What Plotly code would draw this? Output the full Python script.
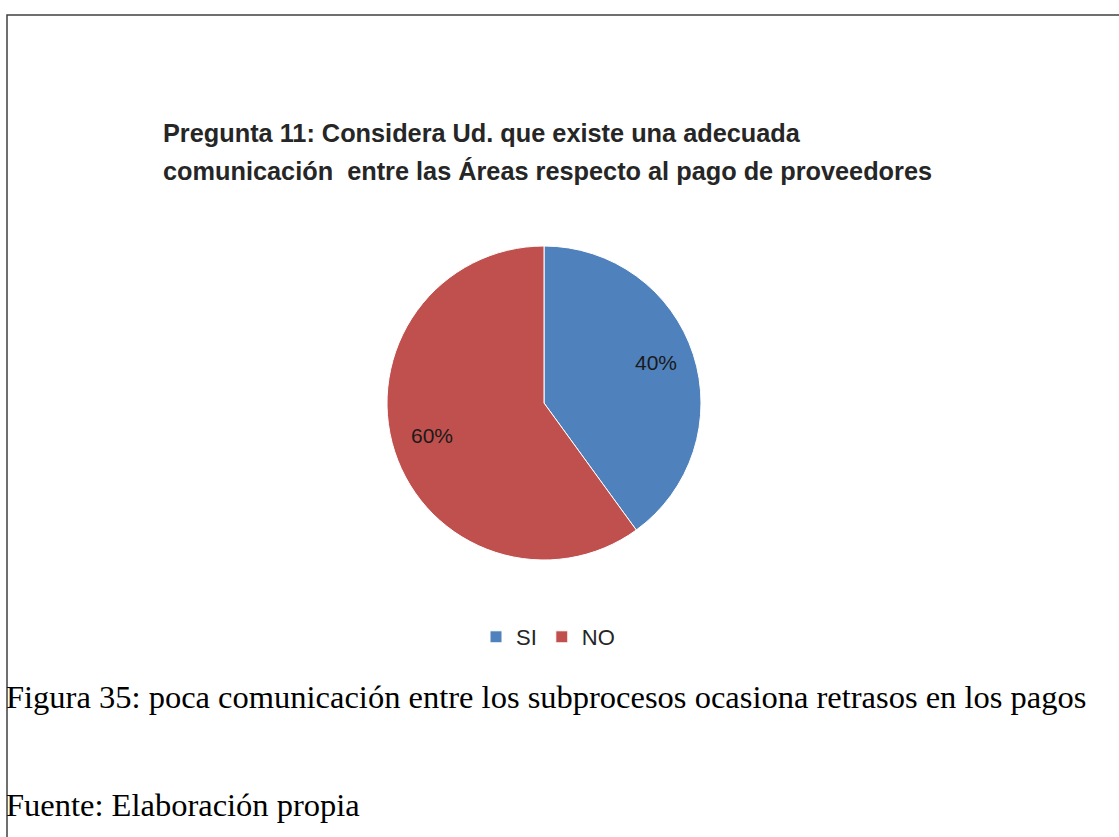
import math
import plotly.graph_objects as go

categories = ["SI", "NO"]
values = [40, 60]
colors = ["#4F81BD", "#C0504D"]

title_lines = ["Pregunta 11: Considera Ud. que existe una adecuada",
               "comunicación  entre las Áreas respecto al pago de proveedores"]
caption = "Figura 35: poca comunicación entre los subprocesos ocasiona retrasos en los pagos"
source = "Fuente: Elaboración propia"

W, H = 1119, 837
cx, cy, r = 544, 403, 157
SANS = "Liberation Sans, Arial, sans-serif"
SERIF = "Liberation Serif, Times New Roman, serif"

fig = go.Figure()
fig.add_trace(go.Pie(
    labels=categories, values=values, sort=False, direction="clockwise", rotation=0,
    marker=dict(colors=colors, line=dict(color="white", width=1)),
    textinfo="none",
    domain=dict(x=[(cx - r) / W, (cx + r) / W], y=[1 - (cy + r) / H, 1 - (cy - r) / H]),
    showlegend=True, hoverinfo="label+percent",
))

# percentage labels placed at slice mid-angles derived from the data
total = sum(values)
cum = 0
for v in values:
    mid = (cum + v / 2) / total * 2 * math.pi
    cum += v
    px = cx + 0.75 * r * math.sin(mid)
    py = cy - 0.75 * r * math.cos(mid) - 4
    fig.add_annotation(text=f"{round(v / total * 100)}%", xref="paper", yref="paper",
                       x=px / W, y=1 - py / H, xanchor="center", yanchor="middle", showarrow=False,
                       font=dict(family=SANS, size=21, color="#1a1a1a"))

fig.update_layout(
    width=W, height=H, margin=dict(l=0, r=0, t=0, b=0),
    paper_bgcolor="white", plot_bgcolor="white",
    showlegend=True,
    legend=dict(orientation="h", x=548 / W, xanchor="center", y=1 - 637 / H, yanchor="middle",
                font=dict(family=SANS, size=22, color="#262626"),
                itemwidth=30, tracegroupgap=0),
)

for i, line in enumerate(title_lines):
    fig.add_annotation(text="<b>" + line + "</b>", xref="paper", yref="paper",
                       x=161 / W, y=1 - (133 + 38 * i) / H, xanchor="left", yanchor="middle",
                       showarrow=False, font=dict(family=SANS, size=25.3, color="#262626"))

fig.add_annotation(text=caption, xref="paper", yref="paper", x=4 / W, y=1 - 697 / H,
                   xanchor="left", yanchor="middle", showarrow=False,
                   font=dict(family=SERIF, size=32.5, color="black"))
fig.add_annotation(text=source, xref="paper", yref="paper", x=4 / W, y=1 - 805 / H,
                   xanchor="left", yanchor="middle", showarrow=False,
                   font=dict(family=SERIF, size=32.5, color="black"))

fig.add_shape(type="rect", xref="paper", yref="paper", x0=7 / W, x1=1.01, y0=-0.01, y1=1 - 15 / H,
              line=dict(color="#404040", width=1.5), fillcolor="rgba(0,0,0,0)")

fig.write_html("out.html")
